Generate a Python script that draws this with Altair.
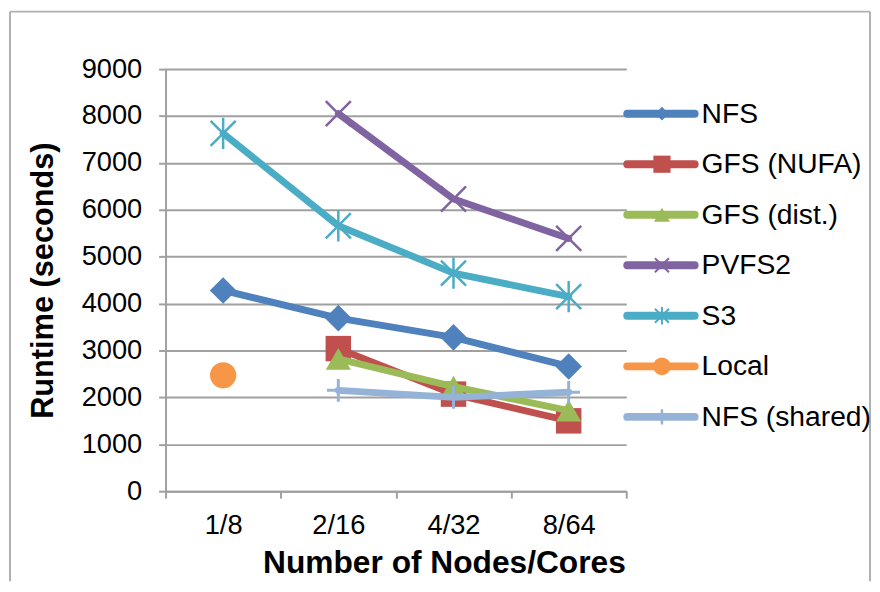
import altair as alt
import pandas as pd

# ---------------- data ----------------
categories = ["1/8", "2/16", "4/32", "8/64"]
series_names = ["NFS", "GFS (NUFA)", "GFS (dist.)", "PVFS2", "S3", "Local", "NFS (shared)"]
nfs = [4280, 3690, 3280, 2660]
gfs_nufa = [None, 3040, 2070, 1500]
gfs_dist = [None, 2820, 2230, 1720]
pvfs2 = [None, 8050, 6230, 5390]
s3 = [7630, 5660, 4650, 4150]
local = [2470, None, None, None]
nfs_shared = [None, 2150, 2000, 2110]
series_values = [nfs, gfs_nufa, gfs_dist, pvfs2, s3, local, nfs_shared]
colors = ["#4F81BD", "#C0504D", "#9BBB59", "#8064A2", "#4BACC6", "#F79646", "#95B3D7"]
y_ticks = [0, 1000, 2000, 3000, 4000, 5000, 6000, 7000, 8000, 9000]

# ---------------- styles ----------------
X_PATH = "M-1,-1L1,1M-1,1L1,-1"
STAR_PATH = "M-1,-1L1,1M-1,1L1,-1M0,-1.25L0,1.25"
PLUS_PATH = "M-1,0L1,0M0,-1L0,1"
# shape, filled, plot size, legend size, stroke width
marker_styles = [
    ("diamond", True, 720, 190, 0),
    ("square", True, 660, 300, 0),
    ("triangle-up", True, 640, 260, 0),
    (X_PATH, False, 640, 200, 2.5),
    (STAR_PATH, False, 640, 200, 2.5),
    ("circle", True, 700, 320, 0),
    (PLUS_PATH, False, 520, 230, 3),
]

FONT = "Liberation Sans"
GREY = "#A0A0A0"
W, H = 465, 426

rows = []
for name, vals in zip(series_names, series_values):
    for c, v in zip(categories, vals):
        if v is not None:
            rows.append({"series": name, "cat": c, "runtime": v})
df = pd.DataFrame(rows)

color_enc = alt.Color("series:N", scale=alt.Scale(domain=series_names, range=colors), legend=None)

x_enc = alt.X(
    "cat:N",
    sort=categories,
    bandPosition=0.5,
    scale=alt.Scale(type="band", domain=categories, paddingInner=0, paddingOuter=0),
    title="Number of Nodes/Cores",
    axis=alt.Axis(
        labelAngle=0, labelFont=FONT, labelFontSize=27.5, labelColor="#000000",
        labelPadding=14, tickSize=7, tickColor=GREY, tickWidth=2, tickBand="extent",
        domainColor=GREY, domainWidth=2, grid=False,
        titleFont=FONT, titleFontSize=32, titleFontWeight="bold", titleColor="#000000",
        titleAlign="center", titleBaseline="alphabetic", titleX=281, titleY=82,
    ),
)
y_enc = alt.Y(
    "runtime:Q",
    scale=alt.Scale(domain=[0, 9000], nice=False, zero=True),
    title="Runtime (seconds)",
    axis=alt.Axis(
        values=y_ticks, format="d", labelFont=FONT, labelFontSize=27.5, labelColor="#000000",
        labelPadding=17, tickSize=7, tickColor=GREY, tickWidth=2,
        domainColor=GREY, domainWidth=2, grid=True, gridColor=GREY, gridWidth=2,
        titleFont=FONT, titleFontSize=31, titleFontWeight="bold", titleColor="#000000",
        titlePadding=22,
    ),
)

main_layers = []
for name, (shape, filled, size, _lsize, sw) in zip(series_names, marker_styles):
    sub = alt.Chart(df).transform_filter(alt.datum.series == name)
    main_layers.append(
        sub.mark_line(strokeWidth=7, strokeJoin="round", strokeCap="round").encode(
            x=x_enc, y=y_enc, color=color_enc
        )
    )
    if filled:
        pm = sub.mark_point(shape=shape, filled=True, size=size, opacity=1)
    else:
        pm = sub.mark_point(shape=shape, filled=False, size=size, opacity=1, strokeWidth=sw)
    main_layers.append(pm.encode(x=x_enc, y=y_enc, color=color_enc))
main = alt.layer(*main_layers)

# ---------------- legend (right side) ----------------
LEG_TOP, LEG_STEP = 45, 51
leg_df = pd.DataFrame({"series": series_names, "row": list(range(len(series_names)))})
leg_y = alt.Y(
    "row:Q",
    scale=alt.Scale(domain=[-LEG_TOP / LEG_STEP, (H - LEG_TOP) / LEG_STEP], reverse=True, nice=False, zero=False),
    axis=None,
)
leg_layers = [
    alt.Chart(leg_df).mark_rule(strokeWidth=8, strokeCap="round").encode(
        x=alt.value(466), x2=alt.value(534), y=leg_y, color=color_enc
    )
]
for name, (shape, filled, size, lsize, sw) in zip(series_names, marker_styles):
    sub = alt.Chart(leg_df).transform_filter(alt.datum.series == name)
    if filled:
        pm = sub.mark_point(shape=shape, filled=True, size=lsize, opacity=1)
    else:
        pm = sub.mark_point(shape=shape, filled=False, size=lsize, opacity=1, strokeWidth=max(sw - 0.5, 1.5))
    leg_layers.append(pm.encode(x=alt.value(501), y=leg_y, color=color_enc))
leg_layers.append(
    alt.Chart(leg_df).mark_text(align="left", baseline="middle", font=FONT, fontSize=28.5, color="#000000").encode(
        x=alt.value(541), y=leg_y, text="series:N"
    )
)
legend = alt.layer(*leg_layers)

# ---------------- outer frame ----------------
frame_df = pd.DataFrame({"k": [0]})
fb = alt.Chart(frame_df)
frame = [
    fb.mark_rule(color="#B0B0B0", strokeWidth=2).encode(x=alt.value(-157), y=alt.value(-58), y2=alt.value(517)),
    fb.mark_rule(color="#B0B0B0", strokeWidth=2).encode(x=alt.value(711), y=alt.value(-58), y2=alt.value(517)),
    fb.mark_rule(color="#B0B0B0", strokeWidth=2).encode(x=alt.value(-157), x2=alt.value(711), y=alt.value(-58)),
]

chart = (
    alt.layer(*frame, main, legend)
    .resolve_scale(y="independent")
    .properties(
        width=W, height=H,
        autosize=alt.AutoSizeParams(type="none"),
        padding={"left": 159, "top": 59, "right": 248, "bottom": 91},
        background="white",
    )
    .configure_view(stroke=None)
)

chart.save("out.html", embed_options={"renderer": "svg", "actions": False})
